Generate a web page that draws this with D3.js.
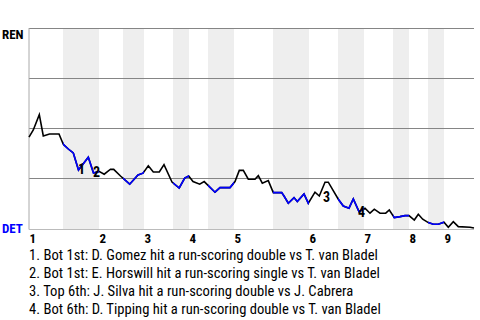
<!DOCTYPE html>
<html>
<head>
<meta charset="utf-8">
<script src="https://cdn.jsdelivr.net/npm/d3@7"></script>
<style>
  body { margin: 0; background: #fff; }
  text { font-family: "Roboto Condensed", Roboto, sans-serif; }
</style>
</head>
<body>
<div id="vis"></div>
<script>
// inning labels and where each half-inning starts (in plays)
const innings = ["1", "2", "3", "4", "5", "6", "7", "8", "9"];
const topStarts = [0, 14, 23, 32, 41, 56, 67, 76, 83];
const botStarts = [6.8, 18.8, 28.8, 35.8, 48.8, 61.8, 72.8, 79.8];
const gameEnd = 89;

// REN win probability (%) after each play
const plays = [0, 0.86, 2.06, 2.86, 4.1, 6, 6.86, 7.86, 8.86, 9.9, 11.86, 12.9, 14, 15.04, 16.3, 16.94,
  18.3, 20.14, 21.8, 22.8, 23.86, 24.86, 26.06, 27, 28.6, 30.04, 31.14, 31.94, 32.8, 34.14, 35.04,
  37.2, 38.2, 40.2, 41.2, 42.06, 42.86, 43.86, 45.2, 45.86, 46.66, 47.86, 48.86, 50.54, 51, 51.86,
  53, 53.66, 55, 55.86, 57.2, 58.06, 59.2, 59.86, 61.86, 62.86, 64, 64.86, 66, 67.2, 68.2, 69.06,
  70.2, 71.34, 72.06, 73.06, 74.2, 75.2, 76, 77.06, 77.86, 78.74, 79.86, 80.86, 81.86, 83, 83.86,
  84.86, 85.86, 88.2, 89];
const renWP = [45.4, 49, 56.7, 46, 47, 47, 41.8, 39.5, 37.5, 29, 35.4, 27.5, 28.3, 26.9, 29.4, 29.3,
  26, 21.9, 26.5, 27.4, 31.1, 28, 28, 31.7, 23, 20, 25, 26, 23.2, 21.9, 23.2,
  17.9, 20.2, 20.2, 23.2, 28.8, 28.8, 24.4, 24.4, 26.2, 22.4, 23.7, 17.7, 17.7, 16, 12.4,
  15.2, 13.2, 17, 12.4, 17.9, 16, 22.9, 22.9, 14.4, 11, 9.9, 14.5, 8.2, 9.9, 7.4, 9.4,
  7.4, 7.4, 9, 5.2, 5.7, 6.2, 6.2, 4, 6.9, 4.4, 2.7, 1.9, 1.9, 2.9, 0.4,
  3.2, 0.7, 0.4, 0];

// key plays
const noteNums = ["1", "2", "3", "4"];
const notePlays = [10.5, 13.5, 59.5, 66.5];
const noteWP = [29, 27.5, 15, 7.5];
const noteTexts = [
  "1. Bot 1st: D. Gomez hit a run-scoring double vs T. van Bladel",
  "2. Bot 1st: E. Horswill hit a run-scoring single vs T. van Bladel",
  "3. Top 6th: J. Silva hit a run-scoring double vs J. Cabrera",
  "4. Bot 6th: D. Tipping hit a run-scoring double vs T. van Bladel"
];

const margin = { top: 28, right: 6, bottom: 92, left: 29 };
const width = 480 - margin.left - margin.right;
const height = 320 - margin.top - margin.bottom;

const svg = d3.select("#vis")
  .append("svg")
    .attr("width", 480)
    .attr("height", 320)
  .append("g")
    .attr("transform", `translate(${margin.left}, ${margin.top})`);

const x = d3.scaleLinear().domain([0, gameEnd]).range([0, width]);
const y = d3.scaleLinear().domain([0, 100]).range([height, 0]);

// bottom half-innings shaded
const bands = botStarts.map((b, i) => [b, topStarts[i + 1]]);
svg.append("g")
  .selectAll("rect")
  .data(bands)
  .join("rect")
    .attr("x", d => x(d[0]))
    .attr("y", 0)
    .attr("width", d => x(d[1]) - x(d[0]))
    .attr("height", height + 1.5)
    .attr("fill", "#eeeeee");

svg.append("clipPath")
    .attr("id", "bots")
  .selectAll("rect")
  .data(bands)
  .join("rect")
    .attr("x", d => x(d[0]))
    .attr("y", -10)
    .attr("width", d => x(d[1]) - x(d[0]))
    .attr("height", height + 20);

// grid lines
svg.append("g")
    .call(d3.axisLeft(y).tickValues([25, 50, 75, 100]).tickSize(-width).tickFormat(""))
    .call(g => g.select(".domain").remove())
    .call(g => g.selectAll(".tick line").attr("stroke", "#858585"));

// frame
svg.append("line")
    .attr("x1", 0).attr("x2", 0)
    .attr("y1", 0).attr("y2", height + 1.5)
    .attr("stroke", "#aaa");

// inning axis
svg.append("g")
    .attr("transform", `translate(0, ${height + 1.5})`)
    .call(d3.axisBottom(x).tickValues(topStarts).tickSize(0).tickPadding(4)
      .tickFormat((d, i) => innings[i]))
    .call(g => g.select(".domain").attr("stroke", "#bbb").attr("d", `M0,0H${width}`))
    .call(g => g.selectAll("text")
      .attr("text-anchor", "start")
      .attr("font-family", "'Roboto Condensed', Roboto, sans-serif")
      .attr("font-weight", "bold")
      .attr("font-size", 13)
      .attr("fill", "#000"));

// win probability line
const line = d3.line()
    .x(d => x(d[0]))
    .y(d => y(d[1]));
const pts = plays.map((p, i) => [p, renWP[i]]);

svg.append("path")
    .datum(pts)
    .attr("fill", "none")
    .attr("stroke", "#000")
    .attr("stroke-width", 1.6)
    .attr("d", line);

svg.append("path")
    .datum(pts)
    .attr("fill", "none")
    .attr("stroke", "#0000ff")
    .attr("stroke-width", 1.6)
    .attr("clip-path", "url(#bots)")
    .attr("d", line);

// key play numbers
svg.append("g")
  .selectAll("text")
  .data(noteNums)
  .join("text")
    .attr("x", (d, i) => x(notePlays[i]))
    .attr("y", (d, i) => y(noteWP[i]) + 4)
    .attr("text-anchor", "middle")
    .attr("font-weight", "bold")
    .attr("font-size", 14)
    .text(d => d);

// team labels
svg.append("text")
    .attr("x", -27).attr("y", 11)
    .attr("font-weight", "bold")
    .attr("font-size", 13)
    .text("REN");
svg.append("text")
    .attr("x", -27).attr("y", height + 5)
    .attr("font-weight", "bold")
    .attr("font-size", 13)
    .attr("fill", "#0000ff")
    .text("DET");

// list of key plays (source font is a bit narrower, squeeze slightly)
svg.append("g")
  .selectAll("text")
  .data(noteTexts)
  .join("text")
    .attr("x", 0)
    .attr("y", (d, i) => height + 31.5 + i * 18)
    .attr("font-size", 15)
    .text(d => d)
    .each(function() {
      const w = this.getComputedTextLength();
      d3.select(this)
        .attr("textLength", w * 0.975)
        .attr("lengthAdjust", "spacingAndGlyphs");
    });
</script>
</body>
</html>
